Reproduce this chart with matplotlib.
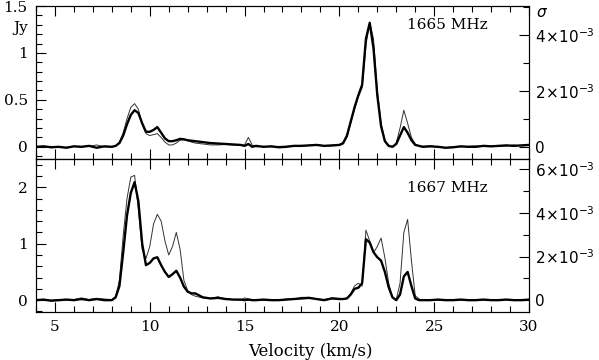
import matplotlib
matplotlib.use("Agg")
import matplotlib.pyplot as plt
from matplotlib.ticker import MultipleLocator, FuncFormatter

# velocity channels (km/s), shared by both panels
vel = [4.0, 4.4, 4.8, 5.2, 5.6, 6.0, 6.4, 6.8, 7.2, 7.6, 8.0,
       8.2, 8.4, 8.6, 8.8, 9.0, 9.2, 9.4, 9.6, 9.8, 10.0, 10.2,
       10.4, 10.6, 10.8, 11.0, 11.2, 11.4, 11.6, 11.8, 12.0, 12.2, 12.4,
       12.8, 13.2, 13.6, 14.0, 14.4, 14.8, 15.0, 15.2, 15.4, 15.6, 16.0,
       16.4, 16.8, 17.2, 17.6, 18.0, 18.4, 18.8, 19.2, 19.6, 20.0,
       20.2, 20.4, 20.6, 20.8, 21.0, 21.2, 21.4, 21.6, 21.8, 22.0, 22.2,
       22.4, 22.6, 22.8, 23.0, 23.2, 23.4, 23.6, 23.8, 24.0, 24.2, 24.4,
       24.8, 25.2, 25.6, 26.0, 26.4, 26.8, 27.2, 27.6, 28.0, 28.4, 28.8,
       29.2, 29.6, 30.0]

# 1665 MHz (Jy)
f1665_thick = [0.00, 0.005, -0.005, 0.0, -0.01, 0.005, 0.0, 0.01, -0.01, 0.005, 0.0,
               0.01, 0.04, 0.12, 0.24, 0.34, 0.39, 0.36, 0.25, 0.16, 0.16, 0.18,
               0.21, 0.15, 0.09, 0.06, 0.06, 0.07, 0.085, 0.08, 0.07, 0.065, 0.06,
               0.05, 0.04, 0.035, 0.03, 0.025, 0.02, 0.01, 0.03, 0.0, 0.01, 0.0,
               0.005, -0.005, 0.0, 0.01, 0.01, 0.015, 0.02, 0.01, 0.015, 0.02,
               0.04, 0.12, 0.27, 0.42, 0.55, 0.66, 1.15, 1.32, 1.05, 0.55, 0.22,
               0.06, 0.01, 0.0, 0.03, 0.12, 0.21, 0.15, 0.07, 0.02, 0.01, 0.0,
               0.005, 0.0, -0.01, -0.005, 0.005, 0.0, 0.0, 0.01, 0.005, 0.01, 0.015,
               0.01, 0.015, 0.02]
f1665_thin = [0.0, 0.005, 0.0, -0.005, -0.005, 0.005, 0.0, 0.005, 0.02, 0.0, 0.0,
              0.01, 0.05, 0.15, 0.30, 0.42, 0.46, 0.40, 0.24, 0.14, 0.12, 0.13,
              0.14, 0.10, 0.05, 0.02, 0.02, 0.04, 0.07, 0.075, 0.065, 0.05, 0.04,
              0.03, 0.02, 0.02, 0.025, 0.02, 0.015, 0.02, 0.10, 0.02, 0.0, 0.005,
              0.0, 0.005, 0.005, 0.01, 0.015, 0.015, 0.025, 0.01, 0.01, 0.015,
              0.03, 0.10, 0.25, 0.40, 0.53, 0.63, 1.08, 1.33, 1.15, 0.60, 0.25,
              0.07, 0.01, 0.0, 0.04, 0.20, 0.39, 0.25, 0.10, 0.03, 0.01, 0.005,
              0.01, -0.005, -0.01, 0.0, 0.0, 0.005, 0.01, 0.005, 0.01, 0.005, 0.01,
              0.02, 0.01, 0.015]

# 1667 MHz (Jy)
f1667_thick = [0.0, 0.01, -0.01, 0.0, 0.01, 0.0, 0.02, 0.0, 0.02, 0.0, 0.0,
               0.05, 0.25, 0.85, 1.50, 1.90, 2.09, 1.75, 1.00, 0.62, 0.66, 0.74,
               0.76, 0.62, 0.50, 0.41, 0.46, 0.52, 0.40, 0.24, 0.15, 0.12, 0.12,
               0.05, 0.03, 0.04, 0.02, 0.01, 0.01, 0.0, 0.01, 0.0, 0.0, 0.01,
               0.0, 0.0, 0.01, 0.02, 0.03, 0.04, 0.02, 0.0, 0.03, 0.02,
               0.02, 0.03, 0.10, 0.20, 0.22, 0.30, 1.08, 1.02, 0.85, 0.76, 0.70,
               0.50, 0.23, 0.05, 0.0, 0.10, 0.42, 0.50, 0.25, 0.03, 0.0, 0.0,
               0.0, 0.01, 0.0, 0.0, 0.01, 0.0, 0.0, 0.01, 0.0, 0.0, 0.01,
               0.0, 0.0, 0.01]
f1667_thin = [0.01, 0.0, 0.0, 0.01, 0.0, 0.01, 0.04, 0.01, 0.03, 0.02, 0.01,
              0.06, 0.35, 1.15, 1.80, 2.18, 2.21, 1.60, 0.90, 0.74, 0.95, 1.35,
              1.52, 1.40, 1.05, 0.80, 0.95, 1.20, 0.90, 0.35, 0.17, 0.10, 0.07,
              0.04, 0.03, 0.06, 0.02, 0.01, 0.0, 0.04, 0.02, 0.01, 0.0, 0.0,
              0.01, 0.0, 0.02, 0.02, 0.05, 0.05, 0.02, 0.01, 0.04, 0.03,
              0.02, 0.04, 0.12, 0.25, 0.30, 0.25, 1.24, 1.05, 0.84, 0.95, 1.10,
              0.75, 0.30, 0.05, 0.01, 0.30, 1.20, 1.43, 0.70, 0.08, 0.02, 0.0,
              0.01, 0.0, 0.01, 0.0, 0.0, 0.01, 0.0, 0.0, 0.01, 0.0, 0.01,
              0.0, 0.01, 0.0]

SERIF = "DejaVu Serif"
plt.rcParams["font.family"] = SERIF
plt.rcParams["mathtext.fontset"] = "dejavusans"

fig = plt.figure(figsize=(5.99, 3.6), dpi=100)
ax1 = fig.add_axes([0.0601, 0.5583, 0.8230, 0.4250])
ax2 = fig.add_axes([0.0601, 0.1333, 0.8230, 0.4250], sharex=ax1)


def sigma_fmt(v, pos):
    n = int(round(v * 1000))
    if n == 0:
        return "0"
    return r"$%d\!\times\!10^{-3}$" % n


def style(ax, ylim, ymaj, ymin, rlim):
    ax.set_xlim(4, 30)
    ax.set_ylim(*ylim)
    ax.xaxis.set_major_locator(MultipleLocator(5))
    ax.xaxis.set_minor_locator(MultipleLocator(1))
    ax.yaxis.set_major_locator(MultipleLocator(ymaj))
    ax.yaxis.set_minor_locator(MultipleLocator(ymin))
    ax.tick_params(which="both", direction="in", top=True, bottom=True,
                   left=True, right=False, labelsize=11, pad=6)
    ax.tick_params(which="major", length=7, width=0.8)
    ax.tick_params(which="minor", length=4, width=0.8)
    ax.yaxis.set_major_formatter(FuncFormatter(lambda v, p: "%g" % v))
    tw = ax.twinx()
    tw.set_ylim(*rlim)
    tw.yaxis.set_major_locator(MultipleLocator(2e-3))
    tw.yaxis.set_minor_locator(MultipleLocator(1e-3))
    tw.yaxis.set_major_formatter(FuncFormatter(sigma_fmt))
    tw.tick_params(which="both", direction="in", labelsize=11, pad=4)
    tw.tick_params(which="major", length=7, width=0.8)
    tw.tick_params(which="minor", length=4, width=0.8)
    for lab in tw.get_yticklabels():
        lab.set_family("DejaVu Sans")
    return tw


tw1 = style(ax1, (-0.13, 1.5), 0.5, 0.1, (-0.43e-3, 5.04e-3))
tw2 = style(ax2, (-0.21, 2.5), 1, 0.2, (-0.55e-3, 6.48e-3))

ax1.plot(vel, f1665_thin, color="#333333", lw=0.7)
ax1.plot(vel, f1665_thick, color="black", lw=1.7)
ax2.plot(vel, f1667_thin, color="#333333", lw=0.7)
ax2.plot(vel, f1667_thick, color="black", lw=1.7)

ax1.tick_params(labelbottom=False)
ax1.text(0.834, 0.876, "1665 MHz", transform=ax1.transAxes, ha="center",
         va="center", fontsize=11)
ax2.text(0.834, 0.81, "1667 MHz", transform=ax2.transAxes, ha="center",
         va="center", fontsize=11)
ax1.text(-0.032, 0.856, "Jy", transform=ax1.transAxes, ha="center",
         va="center", fontsize=11)
ax1.text(1.015, 0.955, r"$\sigma$", transform=ax1.transAxes, ha="left",
         va="center", fontsize=11, family="DejaVu Sans", style="italic")

ax2.set_xlabel("Velocity (km/s)", fontsize=12, labelpad=2)
ax2.xaxis.set_label_coords(0.556, -0.2)

fig.savefig("out.png", dpi=100)
